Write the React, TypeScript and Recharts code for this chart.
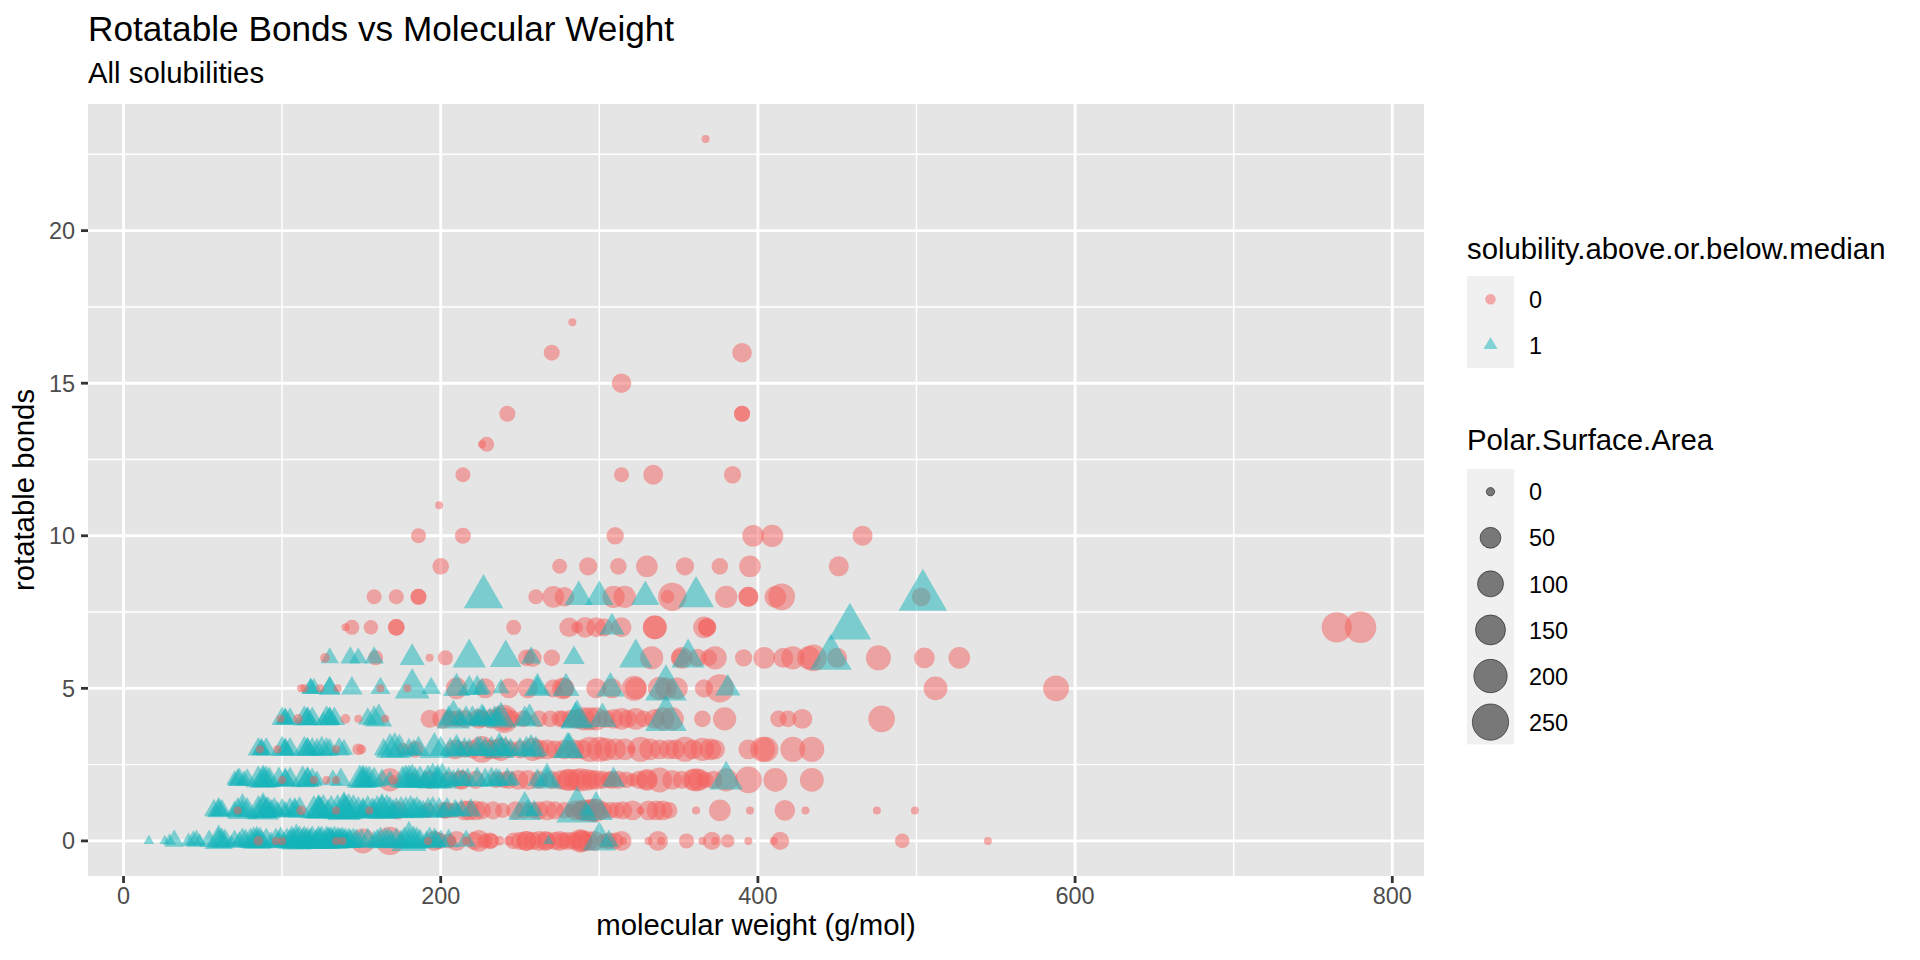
import { CartesianGrid, Scatter, ScatterChart, XAxis, YAxis } from 'recharts'

const RED = '#F45F5C'
const TEAL = '#12B3BA'
const FONT = '"Liberation Sans", Arial, sans-serif'

const xTicks = [0, 200, 400, 600, 800]
const xMinor = [100, 300, 500, 700]
const yTicks = [0, 5, 10, 15, 20]
const yMinor = [2.5, 7.5, 12.5, 17.5, 22.5]
const psaLegend = [0, 50, 100, 150, 200, 250]

// [molecular weight, polar surface area], one list per rotatable bond count
const below0 = [[85,1],[96,0],[100,0],[134,0],[138,0],[151,99],[168,141],[192,0],[196,49],[199,26],[205,17],[207,1],[210,49],[216,0],[221,36],[224,64],[228,17],[231,26],[232,17],[237,1],[243,1],[246,26],[250,36],[254,49],[254,49],[258,36],[262,49],[266,49],[267,36],[272,36],[275,49],[277,26],[280,36],[284,36],[288,80],[289,49],[289,64],[293,49],[297,49],[303,17],[306,26],[310,26],[314,49],[315,0],[331,0],[337,49],[339,0],[355,17],[365,0],[371,36],[373,0],[381,10],[394,0],[410,0],[414,36],[491,15],[545,0]]
const below1 = [[72,0],[112,1],[134,0],[155,0],[173,36],[192,17],[202,26],[204,26],[208,17],[215,49],[218,49],[222,49],[226,36],[233,36],[239,17],[247,36],[252,26],[258,26],[262,36],[267,49],[272,36],[278,26],[282,10],[285,49],[288,36],[290,64],[293,64],[296,80],[298,80],[302,36],[307,26],[311,26],[315,36],[321,49],[326,0],[331,49],[336,49],[340,49],[344,26],[361,0],[376,64],[395,0],[417,55],[430,0],[475,0],[499,0]]
const below2 = [[100,0],[120,0],[128,0],[134,0],[168,80],[170,1],[182,17],[193,36],[205,26],[213,49],[213,36],[222,36],[235,26],[240,26],[243,36],[249,49],[255,49],[262,36],[270,36],[276,49],[281,64],[280,64],[285,64],[288,80],[292,64],[295,49],[298,49],[302,36],[306,26],[308,36],[312,36],[317,26],[321,10],[325,36],[330,64],[330,49],[338,99],[346,49],[352,36],[359,64],[361,80],[363,64],[367,26],[372,36],[380,80],[394,120],[411,86],[434,86]]
const below3 = [[86,0],[97,0],[134,0],[148,5],[150,1],[176,10],[184,26],[209,49],[215,26],[220,36],[226,120],[230,49],[235,49],[238,80],[244,26],[250,36],[258,80],[262,49],[267,49],[272,36],[278,49],[284,49],[289,49],[294,99],[300,99],[304,80],[310,64],[316,64],[320,0],[326,99],[332,64],[338,49],[344,49],[348,49],[354,99],[359,49],[365,80],[370,64],[373,49],[394,49],[403,99],[405,99],[422,99],[434,99]]
const below4 = [[99,0],[110,1],[140,1],[148,0],[165,0],[193,36],[201,49],[206,26],[210,26],[215,36],[224,49],[226,26],[232,49],[240,141],[240,80],[245,26],[252,26],[262,26],[269,26],[275,26],[277,26],[282,36],[286,49],[290,80],[294,80],[298,80],[304,36],[309,49],[314,64],[318,36],[323,64],[328,26],[335,49],[340,80],[346,80],[365,26],[379,80],[413,26],[419,26],[428,49],[478,120]]
const below5 = [[112,0],[114,0],[124,0],[135,0],[162,0],[179,0],[210,64],[228,49],[243,49],[255,49],[271,36],[277,64],[278,49],[298,49],[308,49],[322,99],[323,64],[338,80],[342,64],[349,64],[366,36],[376,141],[512,86],[588,110]]
const below6 = [[127,1],[159,17],[193,0],[203,17],[254,26],[258,36],[270,26],[333,80],[351,36],[352,64],[362,36],[369,26],[373,80],[391,30],[404,64],[416,49],[422,80],[432,80],[435,120],[450,49],[476,99],[505,55],[527,64]]
const below7 = [[140,0],[144,17],[156,14],[172,26],[172,26],[246,17],[281,46],[286,5],[291,55],[298,49],[303,36],[314,49],[335,86],[335,86],[366,64],[368,36],[368,36],[765,170],[780,190]]
const below8 = [[158,17],[172,17],[186,22],[186,22],[260,17],[271,64],[278,46],[309,70],[316,70],[343,10],[346,141],[380,70],[394,49],[394,49],[411,64],[415,120],[503,40]]
const below9 = [[200,26],[275,17],[293,36],[312,26],[330,64],[354,36],[376,26],[395,64],[451,50]]
const below10 = [[186,17],[214,22],[310,30],[397,64],[409,70],[466,50]]
const below11 = [[199,0]]
const below12 = [[214,17],[314,17],[334,49],[384,30]]
const below13 = [[226,0],[229,17]]
const below14 = [[242,22],[390,22],[390,22]]
const below15 = [[314,46]]
const below16 = [[270,22],[390,46]]
const below17 = [[283,0]]
const below23 = [[367,0]]

const above0 = [[16,0],[26,0],[29,1],[32,16],[41,3],[44,11],[46,16],[48,1],[54,16],[60,59],[60,30],[62,30],[64,22],[68,0],[70,16],[73,7],[75,30],[77,22],[80,30],[82,39],[84,49],[84,22],[86,39],[87,16],[90,30],[93,7],[96,30],[98,11],[99,39],[101,7],[103,30],[105,22],[106,49],[107,30],[109,70],[109,30],[111,49],[113,30],[114,49],[115,22],[116,39],[117,16],[118,30],[119,49],[121,16],[122,30],[123,49],[124,30],[125,49],[127,16],[128,49],[129,39],[130,39],[131,39],[132,22],[133,49],[134,16],[135,39],[136,30],[137,30],[138,39],[139,22],[140,30],[141,7],[142,30],[143,22],[145,30],[147,22],[150,22],[154,30],[158,11],[160,22],[162,39],[165,30],[167,30],[169,16],[172,30],[175,16],[177,39],[180,111],[180,30],[183,49],[185,39],[187,22],[191,11],[193,39],[196,30],[197,16],[200,16],[205,22],[216,16],[268,0],[300,97],[306,16]]
const above1 = [[57,16],[60,30],[60,16],[62,16],[70,7],[72,30],[75,70],[75,16],[78,30],[85,49],[88,83],[88,49],[90,30],[91,39],[93,16],[95,30],[97,7],[100,22],[102,7],[105,30],[108,30],[108,16],[111,39],[120,49],[123,59],[123,49],[124,39],[126,59],[129,16],[131,49],[135,59],[139,97],[139,70],[140,49],[142,70],[145,59],[148,39],[151,16],[151,30],[154,49],[157,30],[158,16],[160,49],[163,70],[163,49],[166,59],[168,39],[170,16],[172,30],[175,39],[178,39],[181,49],[183,30],[185,39],[187,16],[189,11],[192,30],[195,39],[199,30],[202,7],[204,30],[209,16],[210,7],[213,16],[219,22],[253,97],[255,16],[259,11],[286,181],[292,7],[298,97]]
const above2 = [[70,7],[72,16],[73,22],[76,7],[78,16],[85,39],[88,49],[88,30],[90,39],[92,30],[98,30],[102,22],[102,16],[105,30],[113,39],[116,30],[116,30],[119,22],[122,7],[132,11],[137,22],[149,49],[151,49],[151,30],[153,39],[155,39],[158,30],[163,16],[168,7],[176,39],[178,49],[180,49],[182,59],[184,30],[187,39],[190,11],[192,49],[195,70],[198,59],[198,30],[201,70],[205,30],[208,11],[211,22],[214,16],[217,22],[223,30],[228,22],[232,30],[235,22],[237,16],[242,22],[245,7],[261,16],[267,70],[267,30],[309,30],[380,97]]
const above3 = [[85,22],[87,16],[87,11],[90,22],[100,30],[102,16],[102,16],[105,22],[114,30],[116,22],[116,22],[119,22],[122,16],[125,30],[128,22],[130,16],[136,22],[139,11],[164,16],[168,59],[171,70],[174,49],[180,16],[183,11],[186,30],[196,70],[200,30],[206,22],[210,49],[211,16],[215,22],[218,16],[223,30],[225,30],[228,22],[232,30],[237,70],[238,30],[241,30],[244,16],[250,22],[254,30],[257,49],[260,30],[280,70],[281,70]]
const above4 = [[100,22],[102,16],[102,11],[105,16],[114,30],[116,22],[116,22],[119,22],[126,1],[128,30],[130,22],[130,22],[133,22],[154,16],[158,30],[161,49],[205,30],[208,97],[212,16],[216,30],[220,30],[223,16],[226,49],[227,30],[231,16],[234,30],[236,30],[238,70],[253,30],[256,49],[285,70],[286,97],[302,59],[342,181]]
const above5 = [[118,11],[118,11],[120,11],[130,22],[130,22],[144,22],[162,16],[182,111],[194,16],[210,49],[218,30],[223,30],[226,11],[238,7],[261,49],[261,22],[279,49],[307,59],[342,181],[381,39]]
const above6 = [[130,11],[143,16],[148,11],[158,16],[182,39],[218,97],[241,83],[257,16],[284,22],[323,97],[356,97],[446,181]]
const above7 = [[308,39],[458,190]]
const above8 = [[227,156],[287,59],[300,59],[329,59],[361,120],[504,269]]

const rows = (lists: Record<number, number[][]>) =>
  Object.entries(lists).flatMap(([bonds, list]) =>
    list.map(([mw, psa]) => ({ mw, bonds: Number(bonds), psa })),
  )

const belowData = rows({
  0: below0, 1: below1, 2: below2, 3: below3, 4: below4, 5: below5, 6: below6, 7: below7, 8: below8,
  9: below9, 10: below10, 11: below11, 12: below12, 13: below13, 14: below14, 15: below15, 16: below16,
  17: below17, 23: below23,
})
const aboveData = rows({
  0: above0, 1: above1, 2: above2, 3: above3, 4: above4, 5: above5, 6: above6, 7: above7, 8: above8,
})

// ggplot's area scale: diameter grows with the root of the value
const diameter = (psa: number) => 8 + 27 * Math.sqrt(psa / 250)
const legendDiameter = (psa: number) => 9.3 + 28 * Math.sqrt(psa / 250)

function trianglePath(cx: number, cy: number, d: number) {
  const half = 0.6734 * d
  return `M${cx},${cy - 0.7776 * d}L${cx + half},${cy + 0.3888 * d}L${cx - half},${cy + 0.3888 * d}Z`
}

function CircleMark(props: any) {
  return <circle cx={props.cx} cy={props.cy} r={diameter(props.payload.psa) / 2} fill={RED} fillOpacity={0.5} />
}

function TriangleMark(props: any) {
  return <path d={trianglePath(props.cx, props.cy, diameter(props.payload.psa))} fill={TEAL} fillOpacity={0.5} />
}

function Legends() {
  return (
    <svg width={453} height={520} style={{ position: 'absolute', left: 1467, top: 230 }} fontFamily={FONT}>
      <text x={0} y={28.6} fontSize={29.33}>solubility.above.or.below.median</text>
      <rect x={0} y={46} width={47} height={92} fill="#F0F0F0" />
      <circle cx={23.5} cy={69.2} r={5.2} fill={RED} fillOpacity={0.5} />
      <path d={trianglePath(23.5, 115, 10.4)} fill={TEAL} fillOpacity={0.5} />
      <text x={62} y={77.8} fontSize={23.47}>0</text>
      <text x={62} y={123.6} fontSize={23.47}>1</text>

      <text x={0} y={220} fontSize={29.33}>Polar.Surface.Area</text>
      <rect x={0} y={239} width={47} height={275.4} fill="#F0F0F0" />
      {psaLegend.map((v, i) => (
        <g key={v}>
          <circle cx={23.5} cy={261.7 + i * 46.08} r={legendDiameter(v) / 2 - 0.5} fill="#000" fillOpacity={0.5} stroke="#000" strokeOpacity={0.5} strokeWidth={1} />
          <text x={62} y={270.4 + i * 46.08} fontSize={23.47}>{v}</text>
        </g>
      ))}
    </svg>
  )
}

export default function App() {
  const tick = { fontSize: 23.47, fill: '#4D4D4D', fontFamily: FONT }
  const title = { fontSize: 29.33, fill: '#000', fontFamily: FONT }
  return (
    <div style={{ position: 'absolute', left: 0, top: 0, width: 1920, height: 960, background: '#fff', fontFamily: FONT }}>
      <div style={{ position: 'absolute', left: 88, top: 9, fontSize: 35.2, lineHeight: '40px', whiteSpace: 'nowrap' }}>
        Rotatable Bonds vs Molecular Weight
      </div>
      <div style={{ position: 'absolute', left: 88, top: 56, fontSize: 29.33, lineHeight: '34px', whiteSpace: 'nowrap' }}>
        All solubilities
      </div>
      <ScatterChart width={1920} height={960} margin={{ top: 104, right: 496, bottom: 24, left: 8 }}>
        <CartesianGrid fill="#E5E5E5" stroke="#fff" strokeWidth={1.45} verticalValues={xMinor} horizontalValues={yMinor} />
        <CartesianGrid stroke="#fff" strokeWidth={2.9} verticalValues={xTicks} horizontalValues={yTicks} />
        <XAxis
          type="number"
          dataKey="mw"
          domain={[-22.4, 820]}
          ticks={xTicks}
          allowDataOverflow
          height={60}
          tick={tick}
          tickSize={7}
          tickMargin={4}
          axisLine={false}
          tickLine={{ stroke: '#333', strokeWidth: 2.8 }}
          label={{ value: 'molecular weight (g/mol)', position: 'insideBottom', offset: 1, style: title }}
        />
        <YAxis
          type="number"
          dataKey="bonds"
          domain={[-1.15, 24.15]}
          ticks={yTicks}
          allowDataOverflow
          width={80}
          tick={tick}
          tickSize={7}
          tickMargin={6}
          axisLine={false}
          tickLine={{ stroke: '#333', strokeWidth: 2.8 }}
          label={{ value: 'rotatable bonds', angle: -90, position: 'insideLeft', offset: 16, style: { ...title, textAnchor: 'middle' } }}
        />
        {/* big red points sit under the teal ones, the tiny ones show on top of them */}
        <Scatter data={belowData.filter((d) => d.psa >= 10)} shape={CircleMark} isAnimationActive={false} />
        <Scatter data={aboveData} shape={TriangleMark} isAnimationActive={false} />
        <Scatter data={belowData.filter((d) => d.psa < 10)} shape={CircleMark} isAnimationActive={false} />
      </ScatterChart>
      <Legends />
    </div>
  )
}
